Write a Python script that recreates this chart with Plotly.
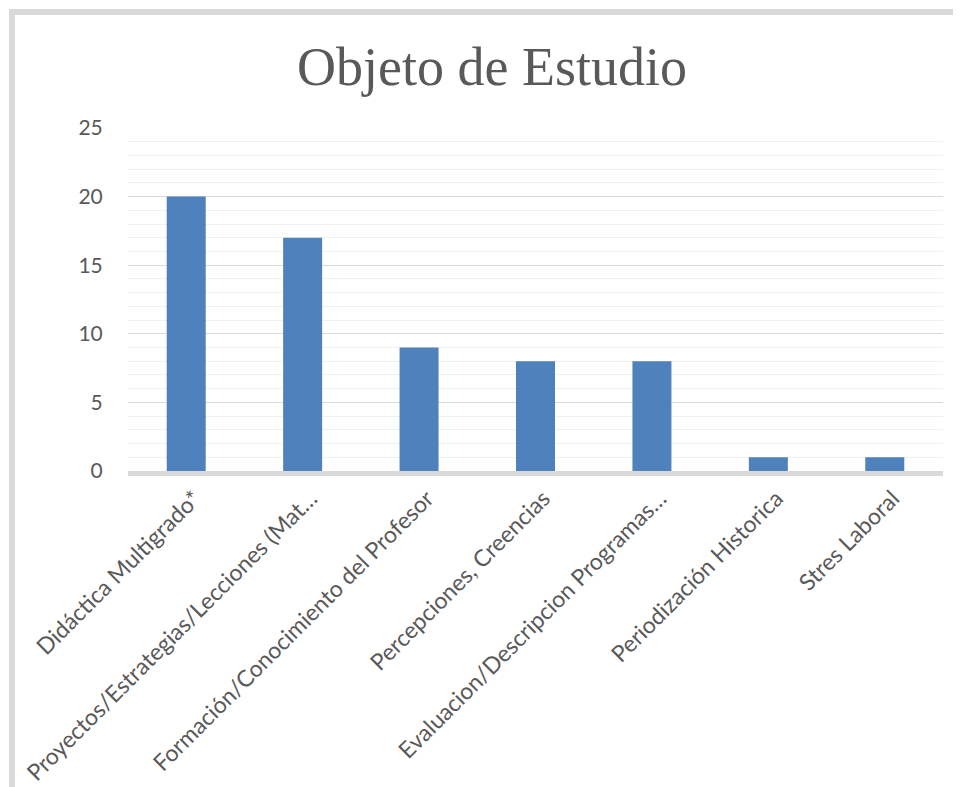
import plotly.graph_objects as go

categories = [
    "Didáctica Multigrado*",
    "Proyectos/Estrategias/Lecciones (Mat…",
    "Formación/Conocimiento del Profesor",
    "Percepciones, Creencias",
    "Evaluacion/Descripcion Programas…",
    "Periodización Historica",
    "Stres Laboral",
]
values = [20, 17, 9, 8, 8, 1, 1]
y_ticks = [0, 5, 10, 15, 20, 25]

fig = go.Figure(go.Bar(x=categories, y=values, marker=dict(color="#4f81bd", line=dict(width=0))))

# page body adds an 8px offset; figure coords = screen coords - 8
L, R, T, B = 120, 935, 120, 463
W, H = 961, 787

fig.update_layout(
    width=W, height=H,
    margin=dict(l=L, r=W - R, t=T, b=H - B, autoexpand=False),
    paper_bgcolor="white", plot_bgcolor="white",
    bargap=0.665,
    showlegend=False,
    title=dict(text="Objeto de Estudio", x=484/W, xanchor="center", y=1-58/H, yanchor="middle",
               font=dict(family="Liberation Serif", size=54, color="#595959")),
    font=dict(family="Lato", color="#595959"),
)
fig.update_yaxes(
    automargin=False,
    range=[0, 25], tickvals=y_ticks, showgrid=True, gridcolor="#d9d9d9", gridwidth=1,
    minor=dict(dtick=1, showgrid=True, gridcolor="#f0f0f0", gridwidth=1),
    ticks="outside", ticklen=20, tickcolor="rgba(0,0,0,0)",
    tickfont=dict(size=21, color="#595959"), zeroline=False, showline=False,
)
fig.update_xaxes(
    automargin=False,
    tickangle=-45, tickfont=dict(size=23, color="#595959"),
    showline=True, linecolor="#d9d9d9", linewidth=5, ticks="",
    ticklabelshift=8,
)
pw, ph = R - L, B - T
fig.add_shape(type="rect", xref="paper", yref="paper",
              x0=(4 - L) / pw, x1=(990 - L) / pw, y0=(B - 820) / ph, y1=(B - 4) / ph,
              line=dict(color="#d9d9d9", width=6), fillcolor="rgba(0,0,0,0)", layer="below")

fig.write_html("out.html")
